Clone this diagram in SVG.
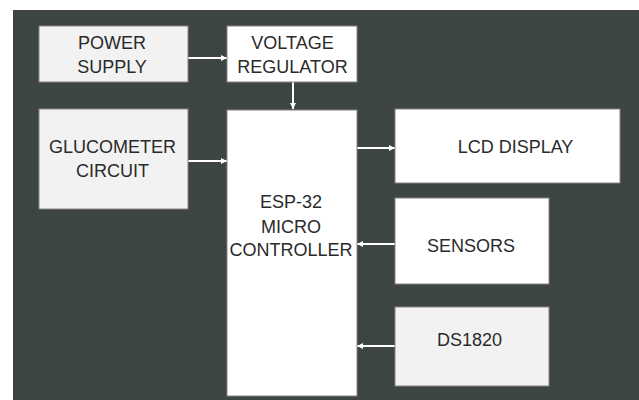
<svg xmlns="http://www.w3.org/2000/svg" width="639" height="400" viewBox="0 0 639 400">
<defs>
<style>
.box{stroke:#8c8282;stroke-width:1}
.w{fill:#ffffff}
.g{fill:#f2f2f2}
text{font-family:"Liberation Sans",Arial,sans-serif;font-size:18px;fill:#2a2a2a;text-anchor:middle}
.c line{stroke:#ffffff;stroke-width:2;marker-end:url(#ah)}
</style>
<marker id="ah" viewBox="0 0 6 6" refX="6" refY="3" markerWidth="3" markerHeight="3" orient="auto" markerUnits="strokeWidth">
<path d="M0,0 L6,3 L0,6 Z" fill="#ffffff"/>
</marker>
</defs>
<rect x="0" y="0" width="639" height="400" fill="#ffffff"/>
<rect x="13" y="10" width="626" height="390" fill="#3c4444"/>
<g class="c" id="connectors">
<line x1="188" y1="58" x2="227" y2="58"/>
<line x1="293" y1="82" x2="293" y2="109"/>
<line x1="188" y1="161" x2="227" y2="161"/>
<line x1="357" y1="148" x2="395" y2="148"/>
<line x1="395" y1="244" x2="357" y2="244"/>
<line x1="395" y1="346" x2="357" y2="346"/>
</g>
<g id="power">
<rect class="box g" x="39" y="26" width="149" height="56"/>
<text x="112" y="49">POWER</text>
<text x="112" y="73">SUPPLY</text>
</g>
<g id="regulator">
<rect class="box w" x="227" y="26" width="130" height="56"/>
<text x="292.5" y="49">VOLTAGE</text>
<text x="292.5" y="73">REGULATOR</text>
</g>
<g id="glucometer">
<rect class="box g" x="39" y="109" width="149" height="100"/>
<text x="112.5" y="153">GLUCOMETER</text>
<text x="112.5" y="177">CIRCUIT</text>
</g>
<g id="mcu">
<rect class="box w" x="227" y="110" width="130" height="286"/>
<text x="291" y="208">ESP-32</text>
<text x="291" y="233">MICRO</text>
<text x="291" y="256">CONTROLLER</text>
</g>
<g id="lcd">
<rect class="box w" x="395" y="109" width="225" height="74"/>
<text x="515.5" y="153">LCD DISPLAY</text>
</g>
<g id="sensors">
<rect class="box w" x="395" y="198" width="154" height="86"/>
<text x="471" y="252">SENSORS</text>
</g>
<g id="ds1820">
<rect class="box g" x="395" y="307" width="154" height="79"/>
<text x="469.5" y="346">DS1820</text>
</g>
</svg>
